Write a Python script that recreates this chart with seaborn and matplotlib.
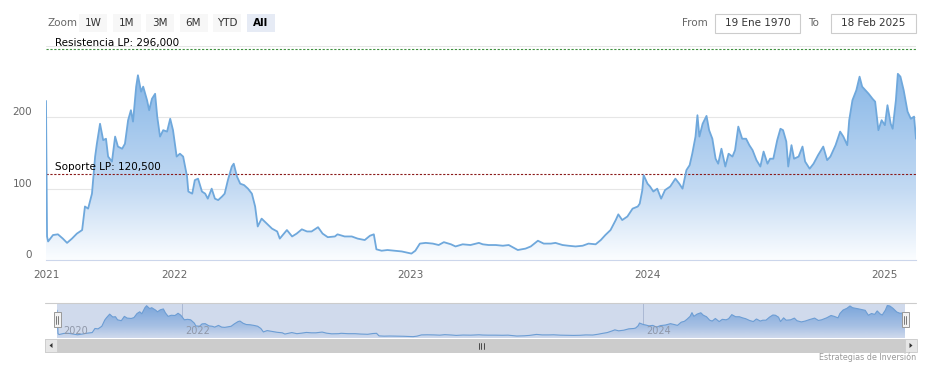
import numpy as np
import pandas as pd
import matplotlib
matplotlib.use("Agg")
import matplotlib.pyplot as plt
import matplotlib.dates as mdates
from matplotlib.colors import LinearSegmentedColormap
from matplotlib.patches import Rectangle, Polygon
import seaborn as sns

# --- datos ---
fechas = [
    "2021-01-01", "2021-01-04", "2021-01-07", "2021-01-21", "2021-02-04", "2021-02-18", "2021-03-02", "2021-03-16",
    "2021-03-30", "2021-04-14", "2021-04-22", "2021-05-01", "2021-05-12", "2021-05-21", "2021-05-26", "2021-06-04",
    "2021-06-13", "2021-06-21", "2021-06-27", "2021-07-08", "2021-07-17", "2021-07-25", "2021-08-06", "2021-08-14",
    "2021-08-23", "2021-08-31", "2021-09-06", "2021-09-15", "2021-09-20", "2021-09-29", "2021-10-05", "2021-10-16",
    "2021-10-22", "2021-10-30", "2021-11-08", "2021-11-14", "2021-11-22", "2021-12-01", "2021-12-12", "2021-12-21",
    "2021-12-29",
    "2022-01-05", "2022-01-10", "2022-01-15", "2022-01-21", "2022-01-23", "2022-01-29", "2022-02-02", "2022-02-07",
    "2022-02-13", "2022-02-18", "2022-02-22", "2022-02-28", "2022-03-05", "2022-03-10", "2022-03-16", "2022-03-20",
    "2022-03-25", "2022-03-31", "2022-04-03", "2022-04-08", "2022-04-13", "2022-04-19", "2022-04-25", "2022-05-01",
    "2022-05-06", "2022-05-10", "2022-05-16", "2022-05-24", "2022-06-01", "2022-06-09", "2022-06-13", "2022-06-24",
    "2022-07-02", "2022-07-09", "2022-07-17", "2022-07-25", "2022-08-01", "2022-08-11", "2022-08-18", "2022-08-26",
    "2022-09-06", "2022-09-10", "2022-09-21", "2022-10-02", "2022-10-11", "2022-10-22", "2022-10-30", "2022-11-05",
    "2022-11-09", "2022-11-17", "2022-11-26", "2022-12-07", "2022-12-18",
    "2023-01-02", "2023-01-08", "2023-01-15", "2023-01-24", "2023-02-04", "2023-02-13", "2023-02-21", "2023-03-04",
    "2023-03-11", "2023-03-22", "2023-04-03", "2023-04-16", "2023-04-22", "2023-05-01", "2023-05-12", "2023-05-23",
    "2023-06-01", "2023-06-15", "2023-06-27", "2023-07-05", "2023-07-16", "2023-07-25", "2023-08-05", "2023-08-12",
    "2023-08-23", "2023-09-01", "2023-09-12", "2023-09-23", "2023-10-02", "2023-10-13", "2023-10-21", "2023-10-28",
    "2023-11-05", "2023-11-13", "2023-11-17", "2023-11-23", "2023-12-01", "2023-12-09", "2023-12-17", "2023-12-20",
    "2023-12-24", "2023-12-26",
    "2024-01-01", "2024-01-05", "2024-01-10", "2024-01-16", "2024-01-22", "2024-01-28", "2024-02-05", "2024-02-13",
    "2024-02-19", "2024-02-24", "2024-03-01", "2024-03-06", "2024-03-10", "2024-03-15", "2024-03-18", "2024-03-21",
    "2024-03-26", "2024-04-01", "2024-04-05", "2024-04-10", "2024-04-15", "2024-04-19", "2024-04-24", "2024-04-30",
    "2024-05-05", "2024-05-11", "2024-05-15", "2024-05-20", "2024-05-26", "2024-06-01", "2024-06-06", "2024-06-11",
    "2024-06-17", "2024-06-23", "2024-06-28", "2024-07-04", "2024-07-08", "2024-07-13", "2024-07-19", "2024-07-24",
    "2024-07-28", "2024-08-02", "2024-08-05", "2024-08-10", "2024-08-14", "2024-08-21", "2024-08-27", "2024-08-31",
    "2024-09-07", "2024-09-13", "2024-09-20", "2024-09-28", "2024-10-04", "2024-10-09", "2024-10-17", "2024-10-24",
    "2024-10-29", "2024-11-04", "2024-11-07", "2024-11-12", "2024-11-18", "2024-11-23", "2024-11-27", "2024-12-02",
    "2024-12-07", "2024-12-13", "2024-12-17", "2024-12-22", "2024-12-27",
    "2025-01-01", "2025-01-05", "2025-01-10", "2025-01-13", "2025-01-18", "2025-01-21", "2025-01-25", "2025-01-30",
    "2025-02-05", "2025-02-10", "2025-02-15", "2025-02-18",
]
precios = [
    223, 33, 26, 35, 36, 30, 24, 30, 37, 42, 75, 72, 93, 145, 163, 191, 168, 170, 145, 138,
    173, 159, 156, 163, 196, 210, 194, 243, 259, 236, 243, 224, 210, 226, 233, 201, 173, 182, 180, 198,
    182,
    145, 149, 145, 117, 96, 93, 112, 114, 96, 93, 86, 100, 86, 84, 89, 93, 112, 131, 135, 117,
    107, 105, 100, 93, 75, 47, 58, 51, 44, 40, 30, 42, 33, 37, 43, 40, 40, 46, 37, 32,
    33, 36, 33, 33, 30, 28, 34, 36, 15, 13, 14, 13, 12,
    9, 13, 23, 24, 23, 21, 25, 22, 19, 22, 21, 24, 22, 21, 21, 20, 21, 14, 16, 19,
    27, 23, 23, 24, 21, 20, 19, 20, 23, 22, 28, 35, 42, 56, 64, 56, 61, 72, 75, 79,
    98, 119,
    107, 103, 96, 100, 86, 98, 103, 114, 107, 100, 126, 133, 149, 173, 203, 173, 191, 202, 182, 170,
    142, 135, 156, 131, 149, 145, 154, 187, 170, 170, 161, 154, 140, 131, 152, 135, 142, 142, 168, 184,
    182, 166, 131, 161, 142, 145, 159, 138, 128, 135, 147, 159, 140, 145, 161, 180, 173, 161, 196, 224,
    238, 257, 243, 238, 233, 226, 222, 182, 196,
    189, 217, 191, 184, 224, 261, 257, 238, 208, 198, 201, 170,
]

resistencia_lp = 296.0
soporte_lp = 120.5
texto_resistencia = "Resistencia LP: 296,000"
texto_soporte = "Soporte LP: 120,500"

y_ticks = [0, 100, 200, 300]
y_etiquetas = ["0", "100", "200", ""]
anios = ["2021", "2022", "2023", "2024", "2025"]
anios_nav = ["2022", "2024"]
inicio_nav = "2020"
botones_zoom = ["1W", "1M", "3M", "6M", "YTD", "All"]
boton_activo = "All"
fecha_desde = "19 Ene 1970"
fecha_hasta = "18 Feb 2025"
credito = "Estrategias de Inversión"

# 2021 tiene menos datos: el eje ordinal de Highstock lo comprime
compresion_2021 = 0.541

sns.set_theme(style="white")
plt.rcParams["font.family"] = ["DejaVu Sans"]

W, H = 935, 369
fig = plt.figure(figsize=(W / 100, H / 100), dpi=100)


def px_axes(x0, y0, x1, y1, **kw):
    return fig.add_axes([x0 / W, 1 - y1 / H, (x1 - x0) / W, (y1 - y0) / H], **kw)


x = mdates.date2num(pd.to_datetime(fechas))
y = np.array(precios, dtype=float)
corte = mdates.date2num(pd.Timestamp("2022-01-01"))


def fwd(v):
    v = np.asarray(v, dtype=float)
    return np.where(v < corte, corte - (corte - v) * compresion_2021, v)


def inv(v):
    v = np.asarray(v, dtype=float)
    return np.where(v < corte, corte - (corte - v) / compresion_2021, v)


cmap = LinearSegmentedColormap.from_list(
    "area", [(0, "#fbfdff"), (0.33, "#c3daf3"), (0.83, "#8dbae8"), (1, "#7eb1e6")])


def area_degradada(ax, y0, ymax):
    fill = ax.fill_between(x, y, y0, facecolor="none", edgecolor="none")
    grad = np.linspace(0, 1, 256).reshape(-1, 1)
    im = ax.imshow(grad, cmap=cmap, origin="lower", aspect="auto",
                   extent=[x[0], x[-1], y0, ymax], zorder=1, interpolation="bilinear")
    im.set_clip_path(fill.get_paths()[0], transform=ax.transData)


# --- grafico principal ---
ax = px_axes(46, 46, 916, 260)
ax.set_xscale("function", functions=(fwd, inv))
area_degradada(ax, 0, 300)
sns.lineplot(x=x, y=y, ax=ax, color="#6fa8dc", linewidth=1.3, zorder=4)
ax.set_xlim(x[0], x[-1])
ax.set_ylim(0, 300)
ax.set_axisbelow(True)
ax.yaxis.grid(True, color="#e6e6e6", linewidth=0.8)
ax.xaxis.grid(False)
for s in ["top", "left", "right"]:
    ax.spines[s].set_visible(False)
ax.spines["bottom"].set_color("#ccd6eb")
ax.spines["bottom"].set_linewidth(0.8)

ax.set_yticks(y_ticks, y_etiquetas)
ax.tick_params(axis="y", length=0, pad=10, labelsize=7.5, labelcolor="#666666")
for t in ax.yaxis.get_major_ticks():
    t.label1.set_verticalalignment("bottom")
x_anios = mdates.date2num(pd.to_datetime([a + "-01-01" for a in anios]))
ax.set_xticks(x_anios, anios)
ax.tick_params(axis="x", length=4.5, width=0.8, color="#ccd6eb", pad=3,
               labelsize=7.5, labelcolor="#666666")
ax.set_xlabel("")
ax.set_ylabel("")

ax.axhline(resistencia_lp, color="#3f913f", linewidth=0.8, linestyle=(0, (2, 1.5)), zorder=3)
ax.axhline(soporte_lp, color="#8b1a1a", linewidth=0.8, linestyle=(0, (2, 1.5)), zorder=3)
ax.annotate(texto_resistencia, xy=(0, resistencia_lp), xycoords=("axes fraction", "data"),
            xytext=(6.5, 2.2), textcoords="offset points", va="baseline", ha="left",
            fontsize=7.5, color="#000000", zorder=6)
ax.annotate(texto_soporte, xy=(0, soporte_lp), xycoords=("axes fraction", "data"),
            xytext=(6.5, 2.6), textcoords="offset points", va="baseline", ha="left",
            fontsize=7.5, color="#000000", zorder=6)

# --- navegador ---
nav = px_axes(57, 303, 905, 338)
nav.set_xscale("function", functions=(fwd, inv))
area_degradada(nav, -2, 281)
sns.lineplot(x=x, y=y, ax=nav, color="#6fa8dc", linewidth=0.8, zorder=4)
nav.set_xlim(x[0], x[-1])
nav.set_ylim(-2, 281)
nav.axvspan(x[0], x[-1], color=(0.4, 0.52, 0.76), alpha=0.3, linewidth=0, zorder=5)
for a in anios_nav:
    xa = mdates.date2num(pd.Timestamp(a + "-01-01"))
    nav.axvline(xa, color="#c8cfdc", linewidth=0.7, zorder=0.5)
    nav.annotate(a, xy=(xa, 0), xycoords=("data", "axes fraction"), xytext=(2.2, 1.3),
                 textcoords="offset points", ha="left", va="bottom", fontsize=7,
                 color="#8f97a8", zorder=6)
nav.annotate(inicio_nav, xy=(0, 0), xycoords="axes fraction", xytext=(4.3, 1.3),
             textcoords="offset points", ha="left", va="bottom", fontsize=7,
             color="#8f97a8", zorder=6)
nav.set_xticks([])
nav.set_yticks([])
nav.set_xlabel("")
nav.set_ylabel("")
for s in nav.spines.values():
    s.set_visible(False)

# --- controles (selector de rango, barra de desplazamiento) ---
ui = fig.add_axes([0, 0, 1, 1], zorder=10)
ui.set_xlim(0, W)
ui.set_ylim(H, 0)
ui.axis("off")
ui.patch.set_alpha(0)

ui.text(47, 23, "Zoom", ha="left", va="center", fontsize=7.5, color="#666666")
for i, b in enumerate(botones_zoom):
    bx = 79 + i * 33.5
    activo = b == boton_activo
    ui.add_patch(Rectangle((bx, 14), 28, 18, facecolor="#e6ebf5" if activo else "#f7f7f7",
                           edgecolor="none"))
    ui.text(bx + 14, 23.5, b, ha="center", va="center", fontsize=7.5,
            color="#000000" if activo else "#333333",
            fontweight="bold" if activo else "normal")

ui.text(682, 23, "From", ha="left", va="center", fontsize=7.5, color="#666666")
ui.add_patch(Rectangle((715, 14), 85, 19, facecolor="white", edgecolor="#cccccc", linewidth=0.8))
ui.text(757.5, 23.5, fecha_desde, ha="center", va="center", fontsize=7.5, color="#333333")
ui.text(808, 23, "To", ha="left", va="center", fontsize=7.5, color="#666666")
ui.add_patch(Rectangle((831, 14), 85, 19, facecolor="white", edgecolor="#cccccc", linewidth=0.8))
ui.text(873.5, 23.5, fecha_hasta, ha="center", va="center", fontsize=7.5, color="#333333")

ui.plot([45, 916], [303, 303], color="#cccccc", linewidth=0.8)
# asas del navegador
for hx in (57, 905):
    ui.add_patch(Rectangle((hx - 3.5, 312), 7, 15, facecolor="#f2f2f2", edgecolor="#999999",
                           linewidth=0.7, zorder=12))
    for lx in (hx - 1, hx + 1):
        ui.plot([lx, lx], [315.5, 323.5], color="#666666", linewidth=0.6, zorder=13)

# barra de desplazamiento
ui.add_patch(Rectangle((45, 339), 871, 13, facecolor="#f2f2f2", edgecolor="#cccccc", linewidth=0.6))
ui.add_patch(Rectangle((57, 339), 848, 13, facecolor="#cccccc", edgecolor="#cccccc", linewidth=0.6))
for bx in (45, 905):
    ui.add_patch(Rectangle((bx, 339), 11.5, 13, facecolor="#e6e6e6", edgecolor="#cccccc", linewidth=0.6))
ui.add_patch(Polygon([[49.5, 345.5], [52.5, 343], [52.5, 348]], closed=True, facecolor="#333333",
                     edgecolor="none"))
ui.add_patch(Polygon([[912.5, 345.5], [909.5, 343], [909.5, 348]], closed=True, facecolor="#333333",
                     edgecolor="none"))
for gx in (478.5, 481, 483.5):
    ui.plot([gx, gx], [342.5, 348.5], color="#333333", linewidth=0.6)

ui.text(916, 357.5, credito, ha="right", va="center", fontsize=5.8, color="#999999")

fig.savefig("out.png", dpi=100)
